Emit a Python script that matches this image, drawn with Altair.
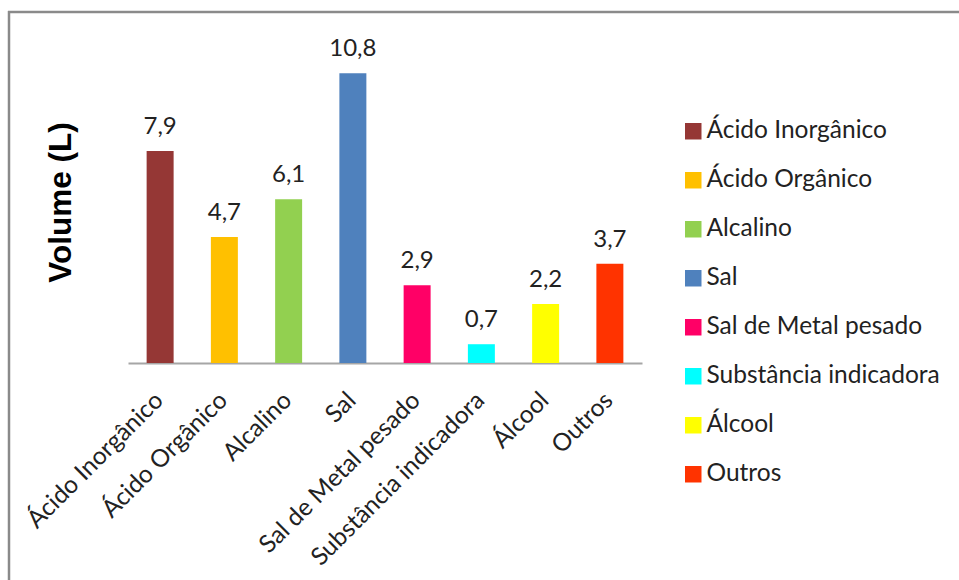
import altair as alt
import pandas as pd

categorias = [
    "Ácido Inorgânico",
    "Ácido Orgânico",
    "Alcalino",
    "Sal",
    "Sal de Metal pesado",
    "Substância indicadora",
    "Álcool",
    "Outros",
]
volumes = [7.9, 4.7, 6.1, 10.8, 2.9, 0.7, 2.2, 3.7]
cores = ["#953735", "#FFC000", "#92D050", "#4F81BD", "#FF0066", "#00FFFF", "#FFFF00", "#FF3300"]

df = pd.DataFrame({"categoria": categorias, "volume": volumes})
df["rotulo"] = [f"{v:.1f}".replace(".", ",") for v in volumes]

FONT = "Lato"
TXT = "#222222"

x = alt.X(
    "categoria:N",
    sort=categorias,
    title=None,
    scale=alt.Scale(paddingInner=0.58, paddingOuter=0.29),
    axis=alt.Axis(
        labelAngle=-45,
        labelFont=FONT,
        labelFontSize=24.5,
        labelColor=TXT,
        labelPadding=25,
        labelOffset=-9,
        labelLimit=500,
        ticks=False,
        domainColor="#a6a6a6",
        domainWidth=2,
        grid=False,
    ),
)
y = alt.Y(
    "volume:Q",
    scale=alt.Scale(domain=[0, 12]),
    axis=alt.Axis(
        title="Volume (L)",
        titleFont="Liberation Sans",
        titleFontSize=31.5,
        titleFontWeight="bold",
        titleColor="#000000",
        titleAngle=-90,
        titleX=-67,
        titleY=161,
        titleAlign="center",
        titleBaseline="middle",
        labels=False,
        ticks=False,
        domain=False,
        grid=False,
    ),
)

base = alt.Chart(df)

barras = base.mark_bar().encode(
    x=x,
    y=y,
    color=alt.Color(
        "categoria:N",
        sort=categorias,
        scale=alt.Scale(domain=categorias, range=cores),
        legend=alt.Legend(
            title=None,
            orient="none",
            legendX=553,
            legendY=78,
            padding=0,
            symbolType="square",
            symbolSize=272,
            symbolStrokeWidth=0,
            labelFont=FONT,
            labelFontSize=24.5,
            labelColor=TXT,
            labelOffset=1,
            rowPadding=24,
            labelLimit=400,
        ),
    ),
)

valores = base.mark_text(
    font=FONT, fontSize=24, color=TXT, baseline="alphabetic", dy=-17
).encode(x=alt.X("categoria:N", sort=categorias), y="volume:Q", text="rotulo:N")

# chart frame: only its top and left edges fall inside the canvas
frame_data = alt.Chart(pd.DataFrame({"m": [0]}))
moldura_topo = frame_data.mark_rule(stroke="#8a8a8a", strokeWidth=2.5).encode(
    x=alt.value(-120), x2=alt.value(840), y=alt.value(-29)
)
moldura_esq = frame_data.mark_rule(stroke="#8a8a8a", strokeWidth=2.5).encode(
    x=alt.value(-119), y=alt.value(-30), y2=alt.value(545)
)

chart = (
    alt.layer(moldura_topo, moldura_esq, barras, valores)
    .properties(
        width=514,
        height=322,
        autosize=alt.AutoSizeParams(type="none"),
        padding={"left": 128, "top": 41, "right": 317, "bottom": 217},
        background="white",
    )
    .configure_view(stroke=None)
)

chart.save("out.html", embed_options={"renderer": "svg", "actions": False})
